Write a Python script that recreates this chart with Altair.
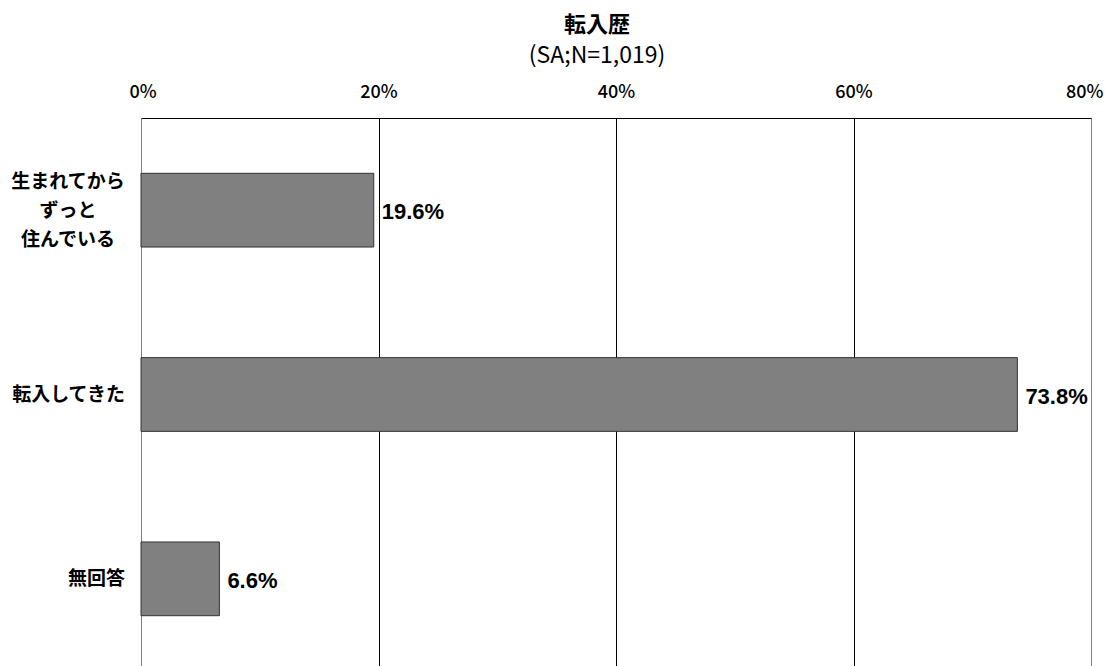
import altair as alt
import pandas as pd

categories = ["生まれてから\nずっと\n住んでいる", "転入してきた", "無回答"]
values = [19.6, 73.8, 6.6]
label_texts = ["19.6%", "73.8%", "6.6%"]
tick_values = [0, 20, 40, 60, 80]

df = pd.DataFrame({"cat": categories, "val": values, "lab": label_texts})

JP = "Noto Sans CJK JP"

y_enc = alt.Y(
    "cat:N",
    sort=categories,
    scale=alt.Scale(paddingInner=0.6, paddingOuter=0.3),
    axis=alt.Axis(labels=False, ticks=False, domainColor="#808080", title=None, grid=False),
)
x_enc = alt.X(
    "val:Q",
    scale=alt.Scale(domain=[0, 80], nice=False, zero=True),
    axis=alt.Axis(
        orient="top",
        values=tick_values,
        labelExpr="datum.value + '%'",
        ticks=False,
        labelFlush=True,
        labelFlushOffset=12,
        labelPadding=17,
        labelFont=JP,
        labelFontSize=18,
        labelFontWeight=500,
        labelColor="black",
        domainColor="black",
        gridColor={
            "condition": {"test": "datum.value == 0 || datum.value == 80", "value": "transparent"},
            "value": "black",
        },
        gridOpacity=1,
        title=None,
    ),
)

base = alt.Chart(df)

bars = base.mark_bar(color="#808080", stroke="#333333", strokeWidth=1).encode(x=x_enc, y=y_enc)

bar_labels = base.mark_text(
    align="left", baseline="middle", dx=8, dy=2,
    font="Liberation Sans", fontWeight="bold", fontSize=22, color="black",
).encode(x=alt.X("val:Q"), y=alt.Y("cat:N", sort=categories), text="lab:N")

cat_multi = base.transform_filter(
    alt.FieldOneOfPredicate(field="cat", oneOf=[categories[0]])
).mark_text(
    align="center", baseline="middle", lineBreak="\n", lineHeight=29, dy=-28,
    font=JP, fontWeight="bold", fontSize=19, color="black",
).encode(x=alt.value(-73), y=alt.Y("cat:N", sort=categories), text="cat:N")

cat_single = base.transform_filter(
    alt.FieldOneOfPredicate(field="cat", oneOf=categories[1:])
).mark_text(
    align="right", baseline="middle",
    font=JP, fontWeight="bold", fontSize=19, color="black",
).encode(x=alt.value(-16), y=alt.Y("cat:N", sort=categories), text="cat:N")

chart = (
    alt.layer(bars, bar_labels, cat_multi, cat_single)
    .properties(
        width=950,
        height=553,
        autosize=alt.AutoSizeParams(type="none"),
        padding={"left": 133, "top": 110, "right": 13, "bottom": 0},
        title=alt.TitleParams(
            text="転入歴",
            subtitle="(SA;N=1,019)",
            font=JP,
            fontSize=22,
            fontWeight="bold",
            color="black",
            subtitleFont=JP,
            subtitleFontSize=23,
            subtitleColor="black",
            subtitlePadding=8,
            anchor="middle",
            dx=-19,
            offset=14,
        ),
    )
    .configure_view(stroke="#808080", strokeWidth=1)
)

chart.save("out.html", embed_options={"renderer": "svg", "actions": False})
